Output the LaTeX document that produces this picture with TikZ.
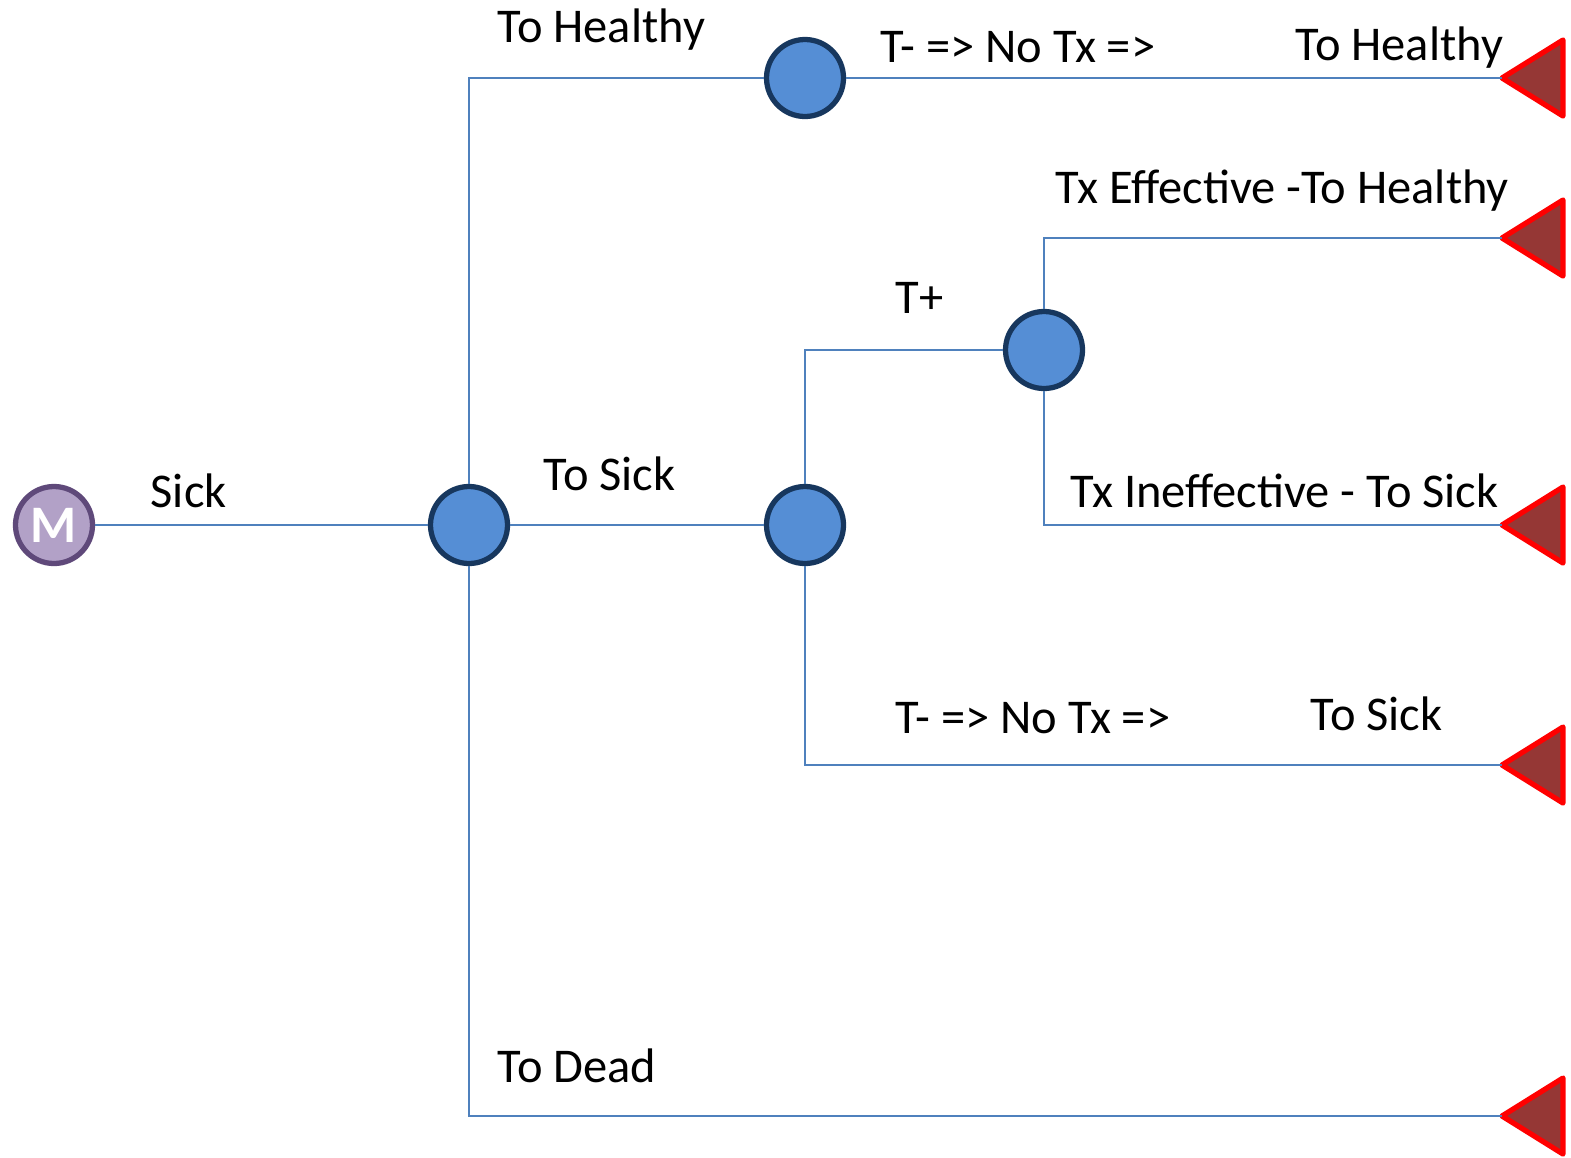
\documentclass[tikz,border=0pt]{standalone}
\usepackage{fontspec}
\setmainfont{Carlito}

\definecolor{branchblue}{RGB}{79,129,189}
\definecolor{chancefill}{RGB}{85,142,213}
\definecolor{chanceedge}{RGB}{23,55,94}
\definecolor{markovfill}{RGB}{178,161,199}
\definecolor{markovedge}{RGB}{95,73,122}
\definecolor{leaffill}{RGB}{149,55,53}

\begin{document}
\begin{tikzpicture}[
    font=\fontsize{13.8}{16}\selectfont,
    chance/.style={
        circle,draw=chanceedge,fill=chancefill,line width=1.5pt,
        minimum size=0.77cm,inner sep=0pt
    },
    markov/.style={chance,draw=markovedge,fill=markovfill,text=white,
        font=\fontsize{15}{17}\selectfont\bfseries},
    branch/.style={draw=branchblue,line width=0.6pt},
    leaf/.style={draw=red,fill=leaffill,line width=1.5pt,line join=round},
    branchtext/.style={anchor=base west,inner sep=0pt}
]
% Same frame as the original slide picture.
\path[use as bounding box] (0,0) rectangle (15.71,-11.57);

\node[markov] (markov) at (0.54,-5.25) {M};
\node[chance] (sick) at (4.69,-5.25) {};
\node[chance] (test) at (8.05,-5.25) {};
\node[chance] (healthy) at (8.05,-0.78) {};
\node[chance] (treat) at (10.44,-3.50) {};

% Terminal nodes: the tip of each triangle is where its branch ends.
\foreach \n/\y in {endhealthy/0.78, endeff/2.38, endineff/5.25,
                   endsick/7.65, enddead/11.16} {
    \coordinate (\n) at (15.02,-\y);
    \draw[leaf] (\n) -- ++(0.61,0.38) -- ++(0,-0.76) -- cycle;
}

\draw[branch] (markov) -- (sick);
\draw[branch] (sick.north) |- (healthy.west);
\draw[branch] (healthy) -- (endhealthy);
\draw[branch] (sick) -- (test);
\draw[branch] (test.north) |- (treat.west);
\draw[branch] (treat.north) |- (endeff);
\draw[branch] (treat.south) |- (endineff);
\draw[branch] (test.south) |- (endsick);
\draw[branch] (sick.south) |- (enddead);

\node[branchtext] (sicklabel) at (1.50,-5.07) {Sick};
\node[branchtext] (tohealthy) at (4.97,-0.42) {To Healthy};
\node[branchtext] (negtop) at (8.80,-0.62) {T- => No Tx =>};
\node[branchtext] (healthyend) at (12.95,-0.60) {To Healthy};
\node[branchtext] (efflabel) at (10.55,-2.03) {Tx Effective -To Healthy};
\node[branchtext] (poslabel) at (8.95,-3.13) {T+};
\node[branchtext] (tosick) at (5.43,-4.90) {To Sick};
\node[branchtext] (inefflabel) at (10.70,-5.07) {Tx Ineffective - To Sick};
\node[branchtext] (negbottom) at (8.95,-7.33) {T- => No Tx =>};
\node[branchtext] (sickend) at (13.10,-7.30) {To Sick};
\node[branchtext] (todead) at (4.97,-10.82) {To Dead};
\end{tikzpicture}
\end{document}
